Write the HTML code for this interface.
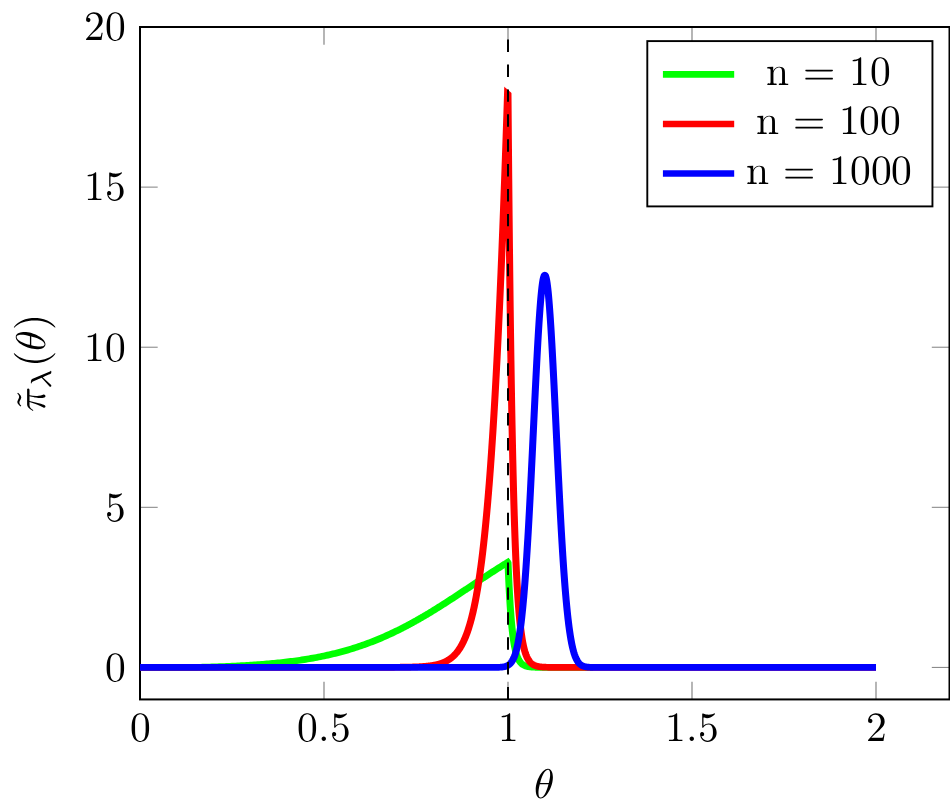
<!DOCTYPE html>
<html lang="en"><head><meta charset="utf-8"><title>Plot of π̃λ(θ) for n = 10, 100, 1000</title>
<style>
html,body{margin:0;padding:0;background:#fff;}
body{width:950px;height:812px;overflow:hidden;font-family:"Liberation Serif",serif;}
svg{display:block;}
</style></head><body>
<svg width="950" height="812" viewBox="0 0 950 812" role="img">
<title>π̃λ(θ) versus θ; legend: n = 10, n = 100, n = 1000</title>
<desc>Line chart. x axis: θ, ticks 0, 0.5, 1, 1.5, 2. y axis: π̃λ(θ), ticks 0, 5, 10, 15, 20. Legend: n = 10 (green), n = 100 (red), n = 1000 (blue). Dashed vertical line at θ = 1.</desc>
<defs><path id="r_zero" d="M460 320C460 400 455 480 420 554C374 650 292 666 250 666C190 666 117 640 76 547C44 478 39 400 39 320C39 245 43 155 84 79C127 -2 200 -22 249 -22C303 -22 379 -1 423 94C455 163 460 241 460 320ZM377 332C377 257 377 189 366 125C351 30 294 0 249 0C210 0 151 25 133 121C122 181 122 273 122 332C122 396 122 462 130 516C149 635 224 644 249 644C282 644 348 626 367 527C377 471 377 395 377 332Z"/><path id="r_period" d="M192 53C192 82 168 106 139 106C110 106 86 82 86 53C86 24 110 0 139 0C168 0 192 24 192 53Z"/><path id="r_five" d="M449 201C449 320 367 420 259 420C211 420 168 404 132 369V564C152 558 185 551 217 551C340 551 410 642 410 655C410 661 407 666 400 666C400 666 397 666 392 663C372 654 323 634 256 634C216 634 170 641 123 662C115 665 111 665 111 665C101 665 101 657 101 641V345C101 327 101 319 115 319C122 319 124 322 128 328C139 344 176 398 257 398C309 398 334 352 342 334C358 297 360 258 360 208C360 173 360 113 336 71C312 32 275 6 229 6C156 6 99 59 82 118C85 117 88 116 99 116C132 116 149 141 149 165C149 189 132 214 99 214C85 214 50 207 50 161C50 75 119 -22 231 -22C347 -22 449 74 449 201Z"/><path id="r_one" d="M419 0V31H387C297 31 294 42 294 79V640C294 664 294 666 271 666C209 602 121 602 89 602V571C109 571 168 571 220 597V79C220 43 217 31 127 31H95V0C130 3 217 3 257 3C297 3 384 3 419 0Z"/><path id="r_two" d="M449 174H424C419 144 412 100 402 85C395 77 329 77 307 77H127L233 180C389 318 449 372 449 472C449 586 359 666 237 666C124 666 50 574 50 485C50 429 100 429 103 429C120 429 155 441 155 482C155 508 137 534 102 534C94 534 92 534 89 533C112 598 166 635 224 635C315 635 358 554 358 472C358 392 308 313 253 251L61 37C50 26 50 24 50 0H421Z"/><path id="r_n" d="M535 0V31C483 31 458 31 457 61V252C457 338 457 369 426 405C412 422 379 442 321 442C248 442 201 399 173 337V442L32 431V400C102 400 110 393 110 344V76C110 31 99 31 32 31V0L145 3L257 0V31C190 31 179 31 179 76V260C179 364 250 420 314 420C377 420 388 366 388 309V76C388 31 377 31 310 31V0L423 3Z"/><path id="r_equal" d="M721 347C721 367 702 367 688 367H89C75 367 56 367 56 347C56 327 75 327 90 327H687C702 327 721 327 721 347ZM721 153C721 173 702 173 687 173H90C75 173 56 173 56 153C56 133 75 133 89 133H688C702 133 721 133 721 153Z"/><path id="m_u1D703" d="M455 500C455 566 437 705 335 705C196 705 42 423 42 194C42 100 71 -11 162 -11C303 -11 455 276 455 500ZM389 562C389 513 381 462 357 363H148C165 427 185 507 225 578C252 627 289 683 334 683C383 683 389 619 389 562ZM348 331C337 285 316 200 278 128C243 60 205 11 162 11C129 11 108 40 108 133C108 175 114 233 140 331Z"/><path id="m_u1D70B" d="M567 407C567 431 546 431 527 431H192C170 431 132 431 88 384C53 345 27 299 27 294C27 294 27 284 39 284C47 284 49 288 55 296C104 373 162 373 182 373H239C207 252 153 131 111 40C103 25 103 23 103 16C103 -3 119 -11 132 -11C162 -11 170 17 182 54C196 100 196 102 209 152L265 373H378C345 225 336 182 336 115C336 100 336 73 344 39C354 -5 365 -11 380 -11C400 -11 421 7 421 27C421 33 421 35 415 49C386 121 386 186 386 214C386 267 393 321 404 373H518C531 373 567 373 567 407Z"/><path id="m_lambda_st" d="M624 2C624 7 621 10 619 12C607 23 597 46 593 55L349 631C342 649 322 694 216 694C204 694 190 694 190 680C190 668 200 667 205 666C226 663 245 660 270 603L389 323L94 57C82 47 74 39 74 22C74 -2 94 -12 108 -12C127 -12 139 1 142 4L404 286C454 172 511 27 522 14C541 -10 559 -10 575 -10H595C614 -10 624 -10 624 2Z"/><path id="c_tilde" d="M170 1206 229 1276Q309 1368 389 1368Q428 1368 474.5 1345Q521 1322 567.5 1299Q614 1276 653 1276Q735 1276 811 1368L852 1333L793 1264Q712 1171 633 1171Q594 1171 547.5 1194.5Q501 1218 454.5 1241Q408 1264 369 1264Q287 1264 211 1171Z"/><path id="r_parenleft" d="M331 -240C331 -237 331 -235 314 -218C189 -92 157 97 157 250C157 424 195 598 318 723C331 735 331 737 331 740C331 747 327 750 321 750C311 750 221 682 162 555C111 445 99 334 99 250C99 172 110 51 165 -62C225 -185 311 -250 321 -250C327 -250 331 -247 331 -240Z"/><path id="r_parenright" d="M289 250C289 328 278 449 223 562C163 685 77 750 67 750C61 750 57 746 57 740C57 737 57 735 76 717C174 618 231 459 231 250C231 79 194 -97 70 -223C57 -235 57 -237 57 -240C57 -246 61 -250 67 -250C77 -250 167 -182 226 -55C277 55 289 166 289 250Z"/></defs>
<rect width="950" height="812" fill="#fff"/>
<g stroke="#808080" stroke-width="1.15" fill="none"><path d="M140.00,699.43V681.73M140.00,27.00V44.70"/><path d="M324.00,699.43V681.73M324.00,27.00V44.70"/><path d="M508.00,699.43V681.73M508.00,27.00V44.70"/><path d="M692.00,699.43V681.73M692.00,27.00V44.70"/><path d="M876.00,699.43V681.73M876.00,27.00V44.70"/><path stroke-width="1" d="M140.00,667.41H157.70M949.50,667.41H931.80"/><path stroke-width="1" d="M140.00,507.31H157.70M949.50,507.31H931.80"/><path stroke-width="1" d="M140.00,347.21H157.70M949.50,347.21H931.80"/><path stroke-width="1" d="M140.00,187.11H157.70M949.50,187.11H931.80"/><path stroke-width="1" d="M140.00,27.01H157.70M949.50,27.01H931.80"/></g>
<rect x="140.0" y="27.0" width="809.50" height="672.43" fill="none" stroke="#000" stroke-width="2.0"/>
<clipPath id="cg"><path d="M-10,-133.04L960,1159.00V820H-10Z"/></clipPath>
<clipPath id="cr"><path d="M-10,-334.68L960,460.43V820H-10Z"/></clipPath>
<g fill="none" stroke-width="6.7" stroke-linejoin="miter" stroke-miterlimit="200" stroke-linecap="butt">
<g clip-path="url(#cg)"><path transform="scale(1.05,1)" d="M133.33,667.41 L135.09,667.41 L136.84,667.41 L138.59,667.41 L140.34,667.41 L142.10,667.41 L143.85,667.41 L145.60,667.41 L147.35,667.41 L149.10,667.41 L150.86,667.41 L152.61,667.41 L154.36,667.41 L156.11,667.41 L157.87,667.41 L159.62,667.41 L161.37,667.41 L163.12,667.41 L164.88,667.41 L166.63,667.41 L168.38,667.41 L170.13,667.41 L171.89,667.41 L173.64,667.40 L175.39,667.40 L177.14,667.39 L178.90,667.39 L180.65,667.37 L182.40,667.36 L184.15,667.34 L185.90,667.32 L187.66,667.30 L189.41,667.27 L191.16,667.24 L192.91,667.20 L194.67,667.16 L196.42,667.12 L198.17,667.07 L199.92,667.02 L201.68,666.96 L203.43,666.91 L205.18,666.85 L206.93,666.78 L208.69,666.72 L210.44,666.65 L212.19,666.57 L213.94,666.50 L215.70,666.42 L217.45,666.34 L219.20,666.26 L220.95,666.17 L222.70,666.08 L224.46,665.99 L226.21,665.90 L227.96,665.80 L229.71,665.70 L231.47,665.60 L233.22,665.49 L234.97,665.38 L236.72,665.27 L238.48,665.15 L240.23,665.03 L241.98,664.91 L243.73,664.78 L245.49,664.65 L247.24,664.51 L248.99,664.37 L250.74,664.23 L252.50,664.08 L254.25,663.93 L256.00,663.77 L257.75,663.61 L259.50,663.44 L261.26,663.27 L263.01,663.09 L264.76,662.90 L266.51,662.71 L268.27,662.52 L270.02,662.31 L271.77,662.11 L273.52,661.89 L275.28,661.67 L277.03,661.44 L278.78,661.20 L280.53,660.96 L282.29,660.71 L284.04,660.45 L285.79,660.19 L287.54,659.91 L289.30,659.63 L291.05,659.34 L292.80,659.04 L294.55,658.74 L296.30,658.42 L298.06,658.09 L299.81,657.76 L301.56,657.42 L303.31,657.06 L305.07,656.70 L306.82,656.32 L308.57,655.94 L310.32,655.54 L312.08,655.14 L313.83,654.72 L315.58,654.29 L317.33,653.86 L319.09,653.41 L320.84,652.94 L322.59,652.47 L324.34,651.99 L326.10,651.49 L327.85,650.98 L329.60,650.46 L331.35,649.93 L333.10,649.38 L334.86,648.82 L336.61,648.25 L338.36,647.66 L340.11,647.06 L341.87,646.45 L343.62,645.83 L345.37,645.19 L347.12,644.54 L348.88,643.87 L350.63,643.20 L352.38,642.50 L354.13,641.80 L355.89,641.08 L357.64,640.34 L359.39,639.60 L361.14,638.83 L362.90,638.06 L364.65,637.27 L366.40,636.47 L368.15,635.65 L369.90,634.82 L371.66,633.97 L373.41,633.12 L375.16,632.24 L376.91,631.36 L378.67,630.46 L378.67,630.46 L379.02,630.28 L379.37,630.09 L379.72,629.91 L380.07,629.73 L380.42,629.55 L380.77,629.36 L381.12,629.18 L381.47,628.99 L381.82,628.81 L382.17,628.62 L382.52,628.43 L382.87,628.25 L383.22,628.06 L383.57,627.87 L383.92,627.68 L384.27,627.49 L384.62,627.30 L384.98,627.11 L385.33,626.92 L385.68,626.73 L386.03,626.54 L386.38,626.34 L386.73,626.15 L387.08,625.96 L387.43,625.76 L387.78,625.57 L388.13,625.37 L388.48,625.18 L388.83,624.98 L389.18,624.79 L389.53,624.59 L389.88,624.39 L390.23,624.19 L390.58,624.00 L390.93,623.80 L391.28,623.60 L391.63,623.40 L391.98,623.20 L392.34,623.00 L392.69,622.79 L393.04,622.59 L393.39,622.39 L393.74,622.19 L394.09,621.98 L394.44,621.78 L394.79,621.57 L395.14,621.37 L395.49,621.16 L395.84,620.96 L396.19,620.75 L396.54,620.55 L396.89,620.34 L397.24,620.13 L397.59,619.92 L397.94,619.71 L398.29,619.51 L398.64,619.30 L398.99,619.09 L399.34,618.88 L399.70,618.66 L400.05,618.45 L400.40,618.24 L400.75,618.03 L401.10,617.82 L401.45,617.60 L401.80,617.39 L402.15,617.18 L402.50,616.96 L402.85,616.75 L403.20,616.53 L403.55,616.32 L403.90,616.10 L404.25,615.88 L404.60,615.67 L404.95,615.45 L404.95,615.45 L405.30,615.23 L405.65,615.01 L406.00,614.79 L406.35,614.57 L406.70,614.36 L407.06,614.14 L407.41,613.92 L407.76,613.69 L408.11,613.47 L408.46,613.25 L408.46,613.25 L408.81,613.03 L409.16,612.81 L409.51,612.59 L409.86,612.36 L410.21,612.14 L410.56,611.92 L410.91,611.69 L411.26,611.47 L411.61,611.24 L411.96,611.02 L411.96,611.02 L412.31,610.79 L412.66,610.56 L413.01,610.34 L413.36,610.11 L413.71,609.88 L413.71,609.88 L414.06,609.66 L414.42,609.43 L414.77,609.20 L415.12,608.97 L415.47,608.74 L415.47,608.74 L415.82,608.52 L416.17,608.29 L416.52,608.06 L416.87,607.83 L417.22,607.60 L417.22,607.60 L417.57,607.36 L417.92,607.13 L418.27,606.90 L418.62,606.67 L418.97,606.44 L418.97,606.44 L419.32,606.21 L419.67,605.97 L420.02,605.74 L420.37,605.51 L420.72,605.27 L420.72,605.27 L421.07,605.04 L421.42,604.81 L421.78,604.57 L422.13,604.34 L422.48,604.10 L422.48,604.10 L422.83,603.87 L423.18,603.63 L423.53,603.39 L423.88,603.16 L424.23,602.92 L424.23,602.92 L424.58,602.69 L424.93,602.45 L425.28,602.21 L425.63,601.97 L425.98,601.74 L426.33,601.50 L426.68,601.26 L427.03,601.02 L427.38,600.78 L427.73,600.55 L428.08,600.31 L428.43,600.07 L428.78,599.83 L429.14,599.59 L429.49,599.35 L429.84,599.11 L430.19,598.87 L430.54,598.63 L430.89,598.39 L431.24,598.15 L431.59,597.90 L431.94,597.66 L432.29,597.42 L432.64,597.18 L432.99,596.94 L433.34,596.70 L433.69,596.45 L434.04,596.21 L434.39,595.97 L434.74,595.73 L435.09,595.48 L435.44,595.24 L435.79,595.00 L436.14,594.76 L436.50,594.51 L436.85,594.27 L437.20,594.03 L437.55,593.78 L437.90,593.54 L438.25,593.29 L438.60,593.05 L438.95,592.81 L439.30,592.56 L439.65,592.32 L440.00,592.07 L440.35,591.83 L440.70,591.58 L441.05,591.34 L441.40,591.09 L441.75,590.85 L442.10,590.60 L442.45,590.36 L442.80,590.11 L443.15,589.87 L443.50,589.62 L443.86,589.38 L444.21,589.13 L444.56,588.89 L444.91,588.64 L445.26,588.40 L445.61,588.15 L445.96,587.91 L446.31,587.66 L446.66,587.41 L447.01,587.17 L447.36,586.92 L447.71,586.68 L448.06,586.43 L448.41,586.19 L448.76,585.94 L449.11,585.70 L449.46,585.45 L449.81,585.20 L450.16,584.96 L450.51,584.71 L450.86,584.47 L451.22,584.22 L451.57,583.98 L451.92,583.73 L452.27,583.49 L452.62,583.24 L452.97,583.00 L453.32,582.75 L453.67,582.51 L454.02,582.26 L454.37,582.02 L454.72,581.77 L455.07,581.53 L455.42,581.28 L455.77,581.04 L456.12,580.79 L456.47,580.55 L456.82,580.30 L457.17,580.06 L457.52,579.82 L457.87,579.57 L458.22,579.33 L458.58,579.08 L458.93,578.84 L459.28,578.60 L459.63,578.35 L459.98,578.11 L460.33,577.87 L460.68,577.63 L461.03,577.38 L461.38,577.14 L461.73,576.90 L462.08,576.66 L462.43,576.41 L462.78,576.17 L462.78,576.17 L463.13,575.93 L463.48,575.69 L463.83,575.45 L464.18,575.21 L464.53,574.97 L464.88,574.73 L465.23,574.48 L465.58,574.24 L465.94,574.00 L466.29,573.77 L466.29,573.77 L466.64,573.53 L466.99,573.29 L467.34,573.05 L467.69,572.81 L468.04,572.57 L468.39,572.33 L468.74,572.09 L469.09,571.86 L469.44,571.62 L469.79,571.38 L470.14,571.14 L470.49,570.91 L470.84,570.67 L471.19,570.44 L471.54,570.20 L471.54,570.20 L471.89,569.96 L472.24,569.73 L472.59,569.49 L472.94,569.26 L473.30,569.03 L473.65,568.79 L474.00,568.56 L474.35,568.32 L474.70,568.09 L475.05,567.86 L475.05,567.86 L475.40,567.63 L475.75,567.39 L476.10,567.16 L476.45,566.93 L476.80,566.70 L477.15,566.47 L477.50,566.24 L477.85,566.01 L478.20,565.78 L478.55,565.55 L478.55,565.55 L478.90,565.32 L479.25,565.10 L479.60,564.87 L479.95,564.64 L480.30,564.41 L480.66,564.19 L481.01,563.96 L481.36,563.74 L481.71,563.51 L482.06,563.29 L482.06,563.29 L482.41,563.06 L482.76,562.84 L483.11,562.61 L483.46,562.39 L483.81,562.17 L484.16,571.23 L484.51,579.50 L484.86,587.07 L485.21,593.99 L485.56,600.30 L485.56,600.30 L485.91,606.08 L486.26,611.36 L486.61,616.18 L486.96,620.59 L487.31,624.62 L487.66,628.30 L488.02,631.67 L488.37,634.75 L488.72,637.56 L489.07,640.13 L489.42,642.48 L489.77,644.62 L490.12,646.58 L490.47,648.38 L490.82,650.01 L491.17,651.51 L491.52,652.88 L491.87,654.13 L492.22,655.27 L492.57,656.32 L492.92,657.27 L493.27,658.14 L493.62,658.94 L493.97,659.67 L494.32,660.34 L494.67,660.95 L495.02,661.50 L495.38,662.01 L495.73,662.48 L496.08,662.90 L496.08,662.90 L496.43,663.29 L496.78,663.64 L497.13,663.97 L497.48,664.26 L497.83,664.53 L498.18,664.78 L498.53,665.01 L498.88,665.21 L499.23,665.40 L499.58,665.58 L499.93,665.73 L500.28,665.88 L500.63,666.01 L500.98,666.13 L501.33,666.24 L501.68,666.34 L502.03,666.43 L502.38,666.52 L502.74,666.59 L503.09,666.66 L503.09,666.66 L503.44,666.73 L503.79,666.79 L504.14,666.84 L504.49,666.89 L504.84,666.93 L505.19,666.98 L505.54,667.01 L505.89,667.05 L506.24,667.08 L506.59,667.11 L506.94,667.13 L507.29,667.16 L507.64,667.18 L507.99,667.20 L508.34,667.22 L508.69,667.23 L509.04,667.25 L509.39,667.26 L509.74,667.28 L510.10,667.29 L510.10,667.29 L510.45,667.30 L510.80,667.31 L511.15,667.32 L511.50,667.32 L511.85,667.33 L512.20,667.34 L512.55,667.34 L512.90,667.35 L513.25,667.36 L513.60,667.36 L513.95,667.36 L514.30,667.37 L514.65,667.37 L515.00,667.38 L515.35,667.38 L515.70,667.38 L516.05,667.38 L516.40,667.39 L516.75,667.39 L517.10,667.39 L517.46,667.39 L517.81,667.39 L518.16,667.39 L518.51,667.40 L518.86,667.40 L519.21,667.40 L519.56,667.40 L519.91,667.40 L520.26,667.40 L520.61,667.40 L520.96,667.40 L521.31,667.40 L521.66,667.40 L522.01,667.40 L522.36,667.40 L522.71,667.41 L523.06,667.41 L523.41,667.41 L523.76,667.41 L524.11,667.41 L524.46,667.41 L524.82,667.41 L525.17,667.41 L525.52,667.41 L525.87,667.41 L526.22,667.41 L526.57,667.41 L526.92,667.41 L527.27,667.41 L527.62,667.41 L527.97,667.41 L528.32,667.41 L528.67,667.41 L529.02,667.41 L529.37,667.41 L529.72,667.41 L530.07,667.41 L530.42,667.41 L530.77,667.41 L531.12,667.41 L531.47,667.41 L531.82,667.41 L532.18,667.41 L532.53,667.41 L532.88,667.41 L533.23,667.41 L533.58,667.41 L533.93,667.41 L534.28,667.41 L534.63,667.41 L534.98,667.41 L535.33,667.41 L535.68,667.41 L536.03,667.41 L536.38,667.41 L536.73,667.41 L537.08,667.41 L537.43,667.41 L537.78,667.41 L538.13,667.41 L538.48,667.41 L538.83,667.41 L539.18,667.41 L539.54,667.41 L539.89,667.41 L539.89,667.41 L540.24,667.41 L540.59,667.41 L540.94,667.41 L541.29,667.41 L541.64,667.41 L541.99,667.41 L542.34,667.41 L542.69,667.41 L543.04,667.41 L543.39,667.41 L543.74,667.41 L544.09,667.41 L544.44,667.41 L544.79,667.41 L545.14,667.41 L545.49,667.41 L545.84,667.41 L546.19,667.41 L546.54,667.41 L546.90,667.41 L546.90,667.41 L547.25,667.41 L547.60,667.41 L547.95,667.41 L548.30,667.41 L548.65,667.41 L549.00,667.41 L549.35,667.41 L549.70,667.41 L550.05,667.41 L550.40,667.41 L550.75,667.41 L551.10,667.41 L551.45,667.41 L551.80,667.41 L552.15,667.41 L552.50,667.41 L552.85,667.41 L553.20,667.41 L553.55,667.41 L553.90,667.41 L553.90,667.41 L554.26,667.41 L554.61,667.41 L554.96,667.41 L555.31,667.41 L555.66,667.41 L556.01,667.41 L556.36,667.41 L556.71,667.41 L557.06,667.41 L557.41,667.41 L557.76,667.41 L558.11,667.41 L558.46,667.41 L558.81,667.41 L559.16,667.41 L559.51,667.41 L559.86,667.41 L560.21,667.41 L560.56,667.41 L560.91,667.41 L560.91,667.41 L561.26,667.41 L561.62,667.41 L561.97,667.41 L562.32,667.41 L562.67,667.41 L563.02,667.41 L563.37,667.41 L563.72,667.41 L564.07,667.41 L564.42,667.41 L564.77,667.41 L565.12,667.41 L565.47,667.41 L565.82,667.41 L566.17,667.41 L566.52,667.41 L566.87,667.41 L567.22,667.41 L567.57,667.41 L567.92,667.41 L567.92,667.41 L568.27,667.41 L568.62,667.41 L568.98,667.41 L569.33,667.41 L569.68,667.41 L570.03,667.41 L570.38,667.41 L570.73,667.41 L571.08,667.41 L571.43,667.41 L571.78,667.41 L572.13,667.41 L572.48,667.41 L572.83,667.41 L573.18,667.41 L573.53,667.41 L573.88,667.41 L574.23,667.41 L574.58,667.41 L574.93,667.41 L574.93,667.41 L575.28,667.41 L575.63,667.41 L575.98,667.41 L576.34,667.41 L576.69,667.41 L577.04,667.41 L577.39,667.41 L577.74,667.41 L578.09,667.41 L578.44,667.41 L578.79,667.41 L579.14,667.41 L579.49,667.41 L579.84,667.41 L580.19,667.41 L580.54,667.41 L580.89,667.41 L581.24,667.41 L581.59,667.41 L581.94,667.41 L581.94,667.41 L582.29,667.41 L582.64,667.41 L582.99,667.41 L583.34,667.41 L583.70,667.41 L583.70,667.41 L584.05,667.41 L584.40,667.41 L584.75,667.41 L585.10,667.41 L585.45,667.41 L585.80,667.41 L586.15,667.41 L586.50,667.41 L586.85,667.41 L587.20,667.41 L587.20,667.41 L587.55,667.41 L587.90,667.41 L588.25,667.41 L588.60,667.41 L588.95,667.41 L590.70,667.41 L592.46,667.41 L594.21,667.41 L595.96,667.41 L597.71,667.41 L599.47,667.41 L601.22,667.41 L602.97,667.41 L604.72,667.41 L606.48,667.41 L608.23,667.41 L609.98,667.41 L611.73,667.41 L613.49,667.41 L615.24,667.41 L616.99,667.41 L618.74,667.41 L620.50,667.41 L622.25,667.41 L624.00,667.41 L625.75,667.41 L627.50,667.41 L629.26,667.41 L631.01,667.41 L632.76,667.41 L634.51,667.41 L636.27,667.41 L638.02,667.41 L639.77,667.41 L641.52,667.41 L643.28,667.41 L645.03,667.41 L646.78,667.41 L648.53,667.41 L650.29,667.41 L652.04,667.41 L653.79,667.41 L655.54,667.41 L657.30,667.41 L659.05,667.41 L660.80,667.41 L662.55,667.41 L664.30,667.41 L666.06,667.41 L667.81,667.41 L669.56,667.41 L671.31,667.41 L673.07,667.41 L674.82,667.41 L676.57,667.41 L678.32,667.41 L680.08,667.41 L681.83,667.41 L683.58,667.41 L685.33,667.41 L687.09,667.41 L688.84,667.41 L690.59,667.41 L692.34,667.41 L694.10,667.41 L695.85,667.41 L697.60,667.41 L699.35,667.41 L701.10,667.41 L702.86,667.41 L704.61,667.41 L706.36,667.41 L708.11,667.41 L709.87,667.41 L711.62,667.41 L713.37,667.41 L715.12,667.41 L716.88,667.41 L718.63,667.41 L720.38,667.41 L722.13,667.41 L723.89,667.41 L725.64,667.41 L727.39,667.41 L729.14,667.41 L730.90,667.41 L732.65,667.41 L734.40,667.41 L736.15,667.41 L737.90,667.41 L739.66,667.41 L741.41,667.41 L743.16,667.41 L744.91,667.41 L746.67,667.41 L748.42,667.41 L750.17,667.41 L751.92,667.41 L753.68,667.41 L755.43,667.41 L757.18,667.41 L758.93,667.41 L760.69,667.41 L762.44,667.41 L764.19,667.41 L765.94,667.41 L767.70,667.41 L769.45,667.41 L771.20,667.41 L772.95,667.41 L774.70,667.41 L776.46,667.41 L778.21,667.41 L779.96,667.41 L781.71,667.41 L783.47,667.41 L785.22,667.41 L786.97,667.41 L788.72,667.41 L790.48,667.41 L792.23,667.41 L793.98,667.41 L795.73,667.41 L797.49,667.41 L799.24,667.41 L800.99,667.41 L802.74,667.41 L804.50,667.41 L806.25,667.41 L808.00,667.41 L809.75,667.41 L811.50,667.41 L813.26,667.41 L815.01,667.41 L816.76,667.41 L818.51,667.41 L820.27,667.41 L822.02,667.41 L823.77,667.41 L825.52,667.41 L827.28,667.41 L829.03,667.41 L830.78,667.41 L832.53,667.41 L834.29,667.41" stroke="#00ff00"/></g>
<g clip-path="url(#cr)"><path transform="scale(1.05,1)" d="M133.33,667.38 L135.09,667.38 L136.84,667.38 L138.59,667.38 L140.34,667.38 L142.10,667.38 L143.85,667.38 L145.60,667.38 L147.35,667.38 L149.10,667.38 L150.86,667.38 L152.61,667.38 L154.36,667.38 L156.11,667.38 L157.87,667.38 L159.62,667.38 L161.37,667.38 L163.12,667.38 L164.88,667.38 L166.63,667.38 L168.38,667.38 L170.13,667.38 L171.89,667.38 L173.64,667.38 L175.39,667.38 L177.14,667.38 L178.90,667.38 L180.65,667.38 L182.40,667.38 L184.15,667.38 L185.90,667.38 L187.66,667.38 L189.41,667.38 L191.16,667.38 L192.91,667.38 L194.67,667.38 L196.42,667.38 L198.17,667.38 L199.92,667.38 L201.68,667.38 L203.43,667.38 L205.18,667.38 L206.93,667.38 L208.69,667.38 L210.44,667.38 L212.19,667.38 L213.94,667.38 L215.70,667.38 L217.45,667.38 L219.20,667.38 L220.95,667.38 L222.70,667.38 L224.46,667.38 L226.21,667.38 L227.96,667.38 L229.71,667.38 L231.47,667.38 L233.22,667.38 L234.97,667.38 L236.72,667.38 L238.48,667.38 L240.23,667.38 L241.98,667.38 L243.73,667.38 L245.49,667.38 L247.24,667.38 L248.99,667.38 L250.74,667.38 L252.50,667.38 L254.25,667.38 L256.00,667.38 L257.75,667.38 L259.50,667.38 L261.26,667.38 L263.01,667.38 L264.76,667.38 L266.51,667.38 L268.27,667.38 L270.02,667.38 L271.77,667.38 L273.52,667.38 L275.28,667.38 L277.03,667.38 L278.78,667.38 L280.53,667.38 L282.29,667.38 L284.04,667.38 L285.79,667.38 L287.54,667.38 L289.30,667.38 L291.05,667.38 L292.80,667.38 L294.55,667.38 L296.30,667.38 L298.06,667.38 L299.81,667.38 L301.56,667.38 L303.31,667.38 L305.07,667.38 L306.82,667.38 L308.57,667.38 L310.32,667.38 L312.08,667.38 L313.83,667.38 L315.58,667.38 L317.33,667.38 L319.09,667.38 L320.84,667.38 L322.59,667.38 L324.34,667.38 L326.10,667.38 L327.85,667.38 L329.60,667.38 L331.35,667.38 L333.10,667.38 L334.86,667.38 L336.61,667.38 L338.36,667.38 L340.11,667.38 L341.87,667.38 L343.62,667.38 L345.37,667.38 L347.12,667.37 L348.88,667.37 L350.63,667.37 L352.38,667.37 L354.13,667.36 L355.89,667.36 L357.64,667.36 L359.39,667.35 L361.14,667.35 L362.90,667.35 L364.65,667.34 L366.40,667.33 L368.15,667.33 L369.90,667.32 L371.66,667.31 L373.41,667.30 L375.16,667.28 L376.91,667.27 L378.67,667.25 L378.67,667.25 L379.02,667.25 L379.37,667.24 L379.72,667.24 L380.07,667.24 L380.42,667.23 L380.77,667.23 L381.12,667.22 L381.47,667.22 L381.82,667.22 L382.17,667.21 L382.52,667.21 L382.87,667.20 L383.22,667.20 L383.57,667.19 L383.92,667.19 L384.27,667.18 L384.62,667.17 L384.98,667.17 L385.33,667.16 L385.68,667.16 L386.03,667.15 L386.38,667.14 L386.73,667.14 L387.08,667.13 L387.43,667.12 L387.78,667.11 L388.13,667.11 L388.48,667.10 L388.83,667.09 L389.18,667.08 L389.53,667.07 L389.88,667.07 L390.23,667.06 L390.58,667.05 L390.93,667.04 L391.28,667.03 L391.63,667.02 L391.98,667.01 L392.34,667.00 L392.69,666.99 L393.04,666.97 L393.39,666.96 L393.74,666.95 L394.09,666.94 L394.44,666.92 L394.79,666.91 L395.14,666.90 L395.49,666.88 L395.84,666.87 L396.19,666.85 L396.54,666.84 L396.89,666.82 L397.24,666.81 L397.59,666.79 L397.94,666.77 L398.29,666.75 L398.64,666.74 L398.99,666.72 L399.34,666.70 L399.70,666.68 L400.05,666.66 L400.40,666.63 L400.75,666.61 L401.10,666.59 L401.45,666.57 L401.80,666.54 L402.15,666.52 L402.50,666.49 L402.85,666.46 L403.20,666.44 L403.55,666.41 L403.90,666.38 L404.25,666.35 L404.60,666.32 L404.95,666.29 L404.95,666.29 L405.30,666.25 L405.65,666.22 L406.00,666.18 L406.35,666.15 L406.70,666.11 L407.06,666.07 L407.41,666.03 L407.76,665.99 L408.11,665.95 L408.46,665.91 L408.46,665.91 L408.81,665.86 L409.16,665.81 L409.51,665.77 L409.86,665.72 L410.21,665.67 L410.56,665.61 L410.91,665.56 L411.26,665.50 L411.61,665.45 L411.96,665.39 L411.96,665.39 L412.31,665.33 L412.66,665.26 L413.01,665.20 L413.36,665.13 L413.71,665.06 L413.71,665.06 L414.06,664.99 L414.42,664.92 L414.77,664.84 L415.12,664.76 L415.47,664.68 L415.47,664.68 L415.82,664.60 L416.17,664.51 L416.52,664.42 L416.87,664.33 L417.22,664.23 L417.22,664.23 L417.57,664.14 L417.92,664.04 L418.27,663.93 L418.62,663.83 L418.97,663.72 L418.97,663.72 L419.32,663.60 L419.67,663.48 L420.02,663.36 L420.37,663.24 L420.72,663.11 L420.72,663.11 L421.07,662.98 L421.42,662.84 L421.78,662.70 L422.13,662.55 L422.48,662.40 L422.48,662.40 L422.83,662.25 L423.18,662.09 L423.53,661.92 L423.88,661.75 L424.23,661.57 L424.23,661.57 L424.58,661.39 L424.93,661.21 L425.28,661.01 L425.63,660.82 L425.98,660.61 L426.33,660.40 L426.68,660.18 L427.03,659.96 L427.38,659.73 L427.73,659.49 L428.08,659.24 L428.43,658.99 L428.78,658.73 L429.14,658.46 L429.49,658.18 L429.84,657.89 L430.19,657.60 L430.54,657.29 L430.89,656.98 L431.24,656.66 L431.59,656.32 L431.94,655.98 L432.29,655.63 L432.64,655.26 L432.99,654.89 L433.34,654.50 L433.69,654.10 L434.04,653.69 L434.39,653.26 L434.74,652.83 L435.09,652.38 L435.44,651.91 L435.79,651.44 L436.14,650.95 L436.50,650.44 L436.85,649.92 L437.20,649.38 L437.55,648.83 L437.90,648.26 L438.25,647.67 L438.60,647.07 L438.95,646.45 L439.30,645.80 L439.65,645.15 L440.00,644.47 L440.35,643.77 L440.70,643.05 L441.05,642.31 L441.40,641.55 L441.75,640.76 L442.10,639.95 L442.45,639.12 L442.80,638.27 L443.15,637.39 L443.50,636.49 L443.86,635.55 L444.21,634.60 L444.56,633.61 L444.91,632.60 L445.26,631.56 L445.61,630.49 L445.96,629.38 L446.31,628.25 L446.66,627.09 L447.01,625.89 L447.36,624.66 L447.71,623.39 L448.06,622.09 L448.41,620.76 L448.76,619.38 L449.11,617.97 L449.46,616.52 L449.81,615.03 L450.16,613.50 L450.51,611.92 L450.86,610.31 L451.22,608.65 L451.57,606.95 L451.92,605.20 L452.27,603.40 L452.62,601.55 L452.97,599.66 L453.32,597.72 L453.67,595.72 L454.02,593.67 L454.37,591.57 L454.72,589.42 L455.07,587.20 L455.42,584.93 L455.77,582.61 L456.12,580.22 L456.47,577.77 L456.82,575.26 L457.17,572.68 L457.52,570.04 L457.87,567.34 L458.22,564.56 L458.58,561.72 L458.93,558.80 L459.28,555.82 L459.63,552.76 L459.98,549.62 L460.33,546.41 L460.68,543.13 L461.03,539.76 L461.38,536.31 L461.73,532.78 L462.08,529.17 L462.43,525.47 L462.78,521.68 L462.78,521.68 L463.13,517.81 L463.48,513.85 L463.83,509.79 L464.18,505.64 L464.53,501.40 L464.88,497.06 L465.23,492.62 L465.58,488.09 L465.94,483.45 L466.29,478.71 L466.29,478.71 L466.64,473.87 L466.99,468.92 L467.34,463.86 L467.69,458.70 L468.04,453.42 L468.39,448.03 L468.74,442.53 L469.09,436.91 L469.44,431.18 L469.79,425.32 L470.14,419.35 L470.49,413.26 L470.84,407.04 L471.19,400.70 L471.54,394.23 L471.54,394.23 L471.89,387.64 L472.24,380.92 L472.59,374.06 L472.94,367.08 L473.30,359.96 L473.65,352.71 L474.00,345.32 L474.35,337.80 L474.70,330.13 L475.05,322.33 L475.05,322.33 L475.40,314.39 L475.75,306.31 L476.10,298.08 L476.45,289.71 L476.80,281.20 L477.15,272.54 L477.50,263.73 L477.85,254.78 L478.20,245.68 L478.55,236.43 L478.55,236.43 L478.90,227.03 L479.25,217.49 L479.60,207.79 L479.95,197.94 L480.30,187.94 L480.66,177.79 L481.01,167.49 L481.36,157.04 L481.71,146.43 L482.06,135.67 L482.06,135.67 L482.41,124.77 L482.76,113.71 L483.11,102.50 L483.46,91.14 L483.70,83.09 L483.81,96.61 L484.16,139.44 L484.51,179.06 L484.86,215.70 L485.21,249.59 L485.56,280.94 L485.56,280.94 L485.91,309.94 L486.26,336.77 L486.61,361.58 L486.96,384.52 L487.31,405.75 L487.66,425.38 L488.02,443.55 L488.37,460.34 L488.72,475.88 L489.07,490.25 L489.42,503.55 L489.77,515.84 L490.12,527.21 L490.47,537.73 L490.82,547.46 L491.17,556.46 L491.52,564.79 L491.87,572.49 L492.22,579.61 L492.57,586.20 L492.92,592.29 L493.27,597.93 L493.62,603.14 L493.97,607.97 L494.32,612.43 L494.67,616.55 L495.02,620.37 L495.38,623.90 L495.73,627.16 L496.08,630.18 L496.08,630.18 L496.43,632.98 L496.78,635.56 L497.13,637.95 L497.48,640.16 L497.83,642.21 L498.18,644.10 L498.53,645.85 L498.88,647.46 L499.23,648.96 L499.58,650.34 L499.93,651.63 L500.28,652.81 L500.63,653.91 L500.98,654.92 L501.33,655.86 L501.68,656.72 L502.03,657.52 L502.38,658.27 L502.74,658.95 L503.09,659.59 L503.09,659.59 L503.44,660.17 L503.79,660.72 L504.14,661.22 L504.49,661.68 L504.84,662.11 L505.19,662.51 L505.54,662.88 L505.89,663.22 L506.24,663.53 L506.59,663.82 L506.94,664.09 L507.29,664.34 L507.64,664.57 L507.99,664.79 L508.34,664.98 L508.69,665.16 L509.04,665.33 L509.39,665.49 L509.74,665.63 L510.10,665.77 L510.10,665.77 L510.45,665.89 L510.80,666.00 L511.15,666.11 L511.50,666.21 L511.85,666.30 L512.20,666.38 L512.55,666.46 L512.90,666.53 L513.25,666.60 L513.60,666.66 L513.95,666.71 L514.30,666.77 L514.65,666.81 L515.00,666.86 L515.35,666.90 L515.70,666.94 L516.05,666.97 L516.40,667.01 L516.75,667.04 L517.10,667.06 L517.46,667.09 L517.81,667.11 L518.16,667.14 L518.51,667.16 L518.86,667.18 L519.21,667.19 L519.56,667.21 L519.91,667.22 L520.26,667.24 L520.61,667.25 L520.96,667.26 L521.31,667.27 L521.66,667.28 L522.01,667.29 L522.36,667.30 L522.71,667.31 L523.06,667.32 L523.41,667.33 L523.76,667.33 L524.11,667.34 L524.46,667.34 L524.82,667.35 L525.17,667.35 L525.52,667.36 L525.87,667.36 L526.22,667.36 L526.57,667.37 L526.92,667.37 L527.27,667.37 L527.62,667.38 L527.97,667.38 L528.32,667.38 L528.67,667.38 L529.02,667.39 L529.37,667.39 L529.72,667.39 L530.07,667.39 L530.42,667.39 L530.77,667.39 L531.12,667.39 L531.47,667.40 L531.82,667.40 L532.18,667.40 L532.53,667.40 L532.88,667.40 L533.23,667.40 L533.58,667.40 L533.93,667.40 L534.28,667.40 L534.63,667.40 L534.98,667.40 L535.33,667.40 L535.68,667.40 L536.03,667.40 L536.38,667.41 L536.73,667.41 L537.08,667.41 L537.43,667.41 L537.78,667.41 L538.13,667.41 L538.48,667.41 L538.83,667.41 L539.18,667.41 L539.54,667.41 L539.89,667.41 L539.89,667.41 L540.24,667.41 L540.59,667.41 L540.94,667.41 L541.29,667.41 L541.64,667.41 L541.99,667.41 L542.34,667.41 L542.69,667.41 L543.04,667.41 L543.39,667.41 L543.74,667.41 L544.09,667.41 L544.44,667.41 L544.79,667.41 L545.14,667.41 L545.49,667.41 L545.84,667.41 L546.19,667.41 L546.54,667.41 L546.90,667.41 L546.90,667.41 L547.25,667.41 L547.60,667.41 L547.95,667.41 L548.30,667.41 L548.65,667.41 L549.00,667.41 L549.35,667.41 L549.70,667.41 L550.05,667.41 L550.40,667.41 L550.75,667.41 L551.10,667.41 L551.45,667.41 L551.80,667.41 L552.15,667.41 L552.50,667.41 L552.85,667.41 L553.20,667.41 L553.55,667.41 L553.90,667.41 L553.90,667.41 L554.26,667.41 L554.61,667.41 L554.96,667.41 L555.31,667.41 L555.66,667.41 L556.01,667.41 L556.36,667.41 L556.71,667.41 L557.06,667.41 L557.41,667.41 L557.76,667.41 L558.11,667.41 L558.46,667.41 L558.81,667.41 L559.16,667.41 L559.51,667.41 L559.86,667.41 L560.21,667.41 L560.56,667.41 L560.91,667.41 L560.91,667.41 L561.26,667.41 L561.62,667.41 L561.97,667.41 L562.32,667.41 L562.67,667.41 L563.02,667.41 L563.37,667.41 L563.72,667.41 L564.07,667.41 L564.42,667.41 L564.77,667.41 L565.12,667.41 L565.47,667.41 L565.82,667.41 L566.17,667.41 L566.52,667.41 L566.87,667.41 L567.22,667.41 L567.57,667.41 L567.92,667.41 L567.92,667.41 L568.27,667.41 L568.62,667.41 L568.98,667.41 L569.33,667.41 L569.68,667.41 L570.03,667.41 L570.38,667.41 L570.73,667.41 L571.08,667.41 L571.43,667.41 L571.78,667.41 L572.13,667.41 L572.48,667.41 L572.83,667.41 L573.18,667.41 L573.53,667.41 L573.88,667.41 L574.23,667.41 L574.58,667.41 L574.93,667.41 L574.93,667.41 L575.28,667.41 L575.63,667.41 L575.98,667.41 L576.34,667.41 L576.69,667.41 L577.04,667.41 L577.39,667.41 L577.74,667.41 L578.09,667.41 L578.44,667.41 L578.79,667.41 L579.14,667.41 L579.49,667.41 L579.84,667.41 L580.19,667.41 L580.54,667.41 L580.89,667.41 L581.24,667.41 L581.59,667.41 L581.94,667.41 L581.94,667.41 L582.29,667.41 L582.64,667.41 L582.99,667.41 L583.34,667.41 L583.70,667.41 L583.70,667.41 L584.05,667.41 L584.40,667.41 L584.75,667.41 L585.10,667.41 L585.45,667.41 L585.80,667.41 L586.15,667.41 L586.50,667.41 L586.85,667.41 L587.20,667.41 L587.20,667.41 L587.55,667.41 L587.90,667.41 L588.25,667.41 L588.60,667.41 L588.95,667.41 L590.70,667.41 L592.46,667.41 L594.21,667.41 L595.96,667.41 L597.71,667.41 L599.47,667.41 L601.22,667.41 L602.97,667.41 L604.72,667.41 L606.48,667.41 L608.23,667.41 L609.98,667.41 L611.73,667.41 L613.49,667.41 L615.24,667.41 L616.99,667.41 L618.74,667.41 L620.50,667.41 L622.25,667.41 L624.00,667.41 L625.75,667.41 L627.50,667.41 L629.26,667.41 L631.01,667.41 L632.76,667.41 L634.51,667.41 L636.27,667.41 L638.02,667.41 L639.77,667.41 L641.52,667.41 L643.28,667.41 L645.03,667.41 L646.78,667.41 L648.53,667.41 L650.29,667.41 L652.04,667.41 L653.79,667.41 L655.54,667.41 L657.30,667.41 L659.05,667.41 L660.80,667.41 L662.55,667.41 L664.30,667.41 L666.06,667.41 L667.81,667.41 L669.56,667.41 L671.31,667.41 L673.07,667.41 L674.82,667.41 L676.57,667.41 L678.32,667.41 L680.08,667.41 L681.83,667.41 L683.58,667.41 L685.33,667.41 L687.09,667.41 L688.84,667.41 L690.59,667.41 L692.34,667.41 L694.10,667.41 L695.85,667.41 L697.60,667.41 L699.35,667.41 L701.10,667.41 L702.86,667.41 L704.61,667.41 L706.36,667.41 L708.11,667.41 L709.87,667.41 L711.62,667.41 L713.37,667.41 L715.12,667.41 L716.88,667.41 L718.63,667.41 L720.38,667.41 L722.13,667.41 L723.89,667.41 L725.64,667.41 L727.39,667.41 L729.14,667.41 L730.90,667.41 L732.65,667.41 L734.40,667.41 L736.15,667.41 L737.90,667.41 L739.66,667.41 L741.41,667.41 L743.16,667.41 L744.91,667.41 L746.67,667.41 L748.42,667.41 L750.17,667.41 L751.92,667.41 L753.68,667.41 L755.43,667.41 L757.18,667.41 L758.93,667.41 L760.69,667.41 L762.44,667.41 L764.19,667.41 L765.94,667.41 L767.70,667.41 L769.45,667.41 L771.20,667.41 L772.95,667.41 L774.70,667.41 L776.46,667.41 L778.21,667.41 L779.96,667.41 L781.71,667.41 L783.47,667.41 L785.22,667.41 L786.97,667.41 L788.72,667.41 L790.48,667.41 L792.23,667.41 L793.98,667.41 L795.73,667.41 L797.49,667.41 L799.24,667.41 L800.99,667.41 L802.74,667.41 L804.50,667.41 L806.25,667.41 L808.00,667.41 L809.75,667.41 L811.50,667.41 L813.26,667.41 L815.01,667.41 L816.76,667.41 L818.51,667.41 L820.27,667.41 L822.02,667.41 L823.77,667.41 L825.52,667.41 L827.28,667.41 L829.03,667.41 L830.78,667.41 L832.53,667.41 L834.29,667.41" stroke="#ff0000"/></g>
<path transform="scale(1.05,1)" d="M133.33,667.41 L135.09,667.41 L136.84,667.41 L138.59,667.41 L140.34,667.41 L142.10,667.41 L143.85,667.41 L145.60,667.41 L147.35,667.41 L149.10,667.41 L150.86,667.41 L152.61,667.41 L154.36,667.41 L156.11,667.41 L157.87,667.41 L159.62,667.41 L161.37,667.41 L163.12,667.41 L164.88,667.41 L166.63,667.41 L168.38,667.41 L170.13,667.41 L171.89,667.41 L173.64,667.41 L175.39,667.41 L177.14,667.41 L178.90,667.41 L180.65,667.41 L182.40,667.41 L184.15,667.41 L185.90,667.41 L187.66,667.41 L189.41,667.41 L191.16,667.41 L192.91,667.41 L194.67,667.41 L196.42,667.41 L198.17,667.41 L199.92,667.41 L201.68,667.41 L203.43,667.41 L205.18,667.41 L206.93,667.41 L208.69,667.41 L210.44,667.41 L212.19,667.41 L213.94,667.41 L215.70,667.41 L217.45,667.41 L219.20,667.41 L220.95,667.41 L222.70,667.41 L224.46,667.41 L226.21,667.41 L227.96,667.41 L229.71,667.41 L231.47,667.41 L233.22,667.41 L234.97,667.41 L236.72,667.41 L238.48,667.41 L240.23,667.41 L241.98,667.41 L243.73,667.41 L245.49,667.41 L247.24,667.41 L248.99,667.41 L250.74,667.41 L252.50,667.41 L254.25,667.41 L256.00,667.41 L257.75,667.41 L259.50,667.41 L261.26,667.41 L263.01,667.41 L264.76,667.41 L266.51,667.41 L268.27,667.41 L270.02,667.41 L271.77,667.41 L273.52,667.41 L275.28,667.41 L277.03,667.41 L278.78,667.41 L280.53,667.41 L282.29,667.41 L284.04,667.41 L285.79,667.41 L287.54,667.41 L289.30,667.41 L291.05,667.41 L292.80,667.41 L294.55,667.41 L296.30,667.41 L298.06,667.41 L299.81,667.41 L301.56,667.41 L303.31,667.41 L305.07,667.41 L306.82,667.41 L308.57,667.41 L310.32,667.41 L312.08,667.41 L313.83,667.41 L315.58,667.41 L317.33,667.41 L319.09,667.41 L320.84,667.41 L322.59,667.41 L324.34,667.41 L326.10,667.41 L327.85,667.41 L329.60,667.41 L331.35,667.41 L333.10,667.41 L334.86,667.41 L336.61,667.41 L338.36,667.41 L340.11,667.41 L341.87,667.41 L343.62,667.41 L345.37,667.41 L347.12,667.41 L348.88,667.41 L350.63,667.41 L352.38,667.41 L354.13,667.41 L355.89,667.41 L357.64,667.41 L359.39,667.41 L361.14,667.41 L362.90,667.41 L364.65,667.41 L366.40,667.41 L368.15,667.41 L369.90,667.41 L371.66,667.41 L373.41,667.41 L375.16,667.41 L376.91,667.41 L378.67,667.41 L378.67,667.41 L379.02,667.41 L379.37,667.41 L379.72,667.41 L380.07,667.41 L380.42,667.41 L380.77,667.41 L381.12,667.41 L381.47,667.41 L381.82,667.41 L382.17,667.41 L382.52,667.41 L382.87,667.41 L383.22,667.41 L383.57,667.41 L383.92,667.41 L384.27,667.41 L384.62,667.41 L384.98,667.41 L385.33,667.41 L385.68,667.41 L386.03,667.41 L386.38,667.41 L386.73,667.41 L387.08,667.41 L387.43,667.41 L387.78,667.41 L388.13,667.41 L388.48,667.41 L388.83,667.41 L389.18,667.41 L389.53,667.41 L389.88,667.41 L390.23,667.41 L390.58,667.41 L390.93,667.41 L391.28,667.41 L391.63,667.41 L391.98,667.41 L392.34,667.41 L392.69,667.41 L393.04,667.41 L393.39,667.41 L393.74,667.41 L394.09,667.41 L394.44,667.41 L394.79,667.41 L395.14,667.41 L395.49,667.41 L395.84,667.41 L396.19,667.41 L396.54,667.41 L396.89,667.41 L397.24,667.41 L397.59,667.41 L397.94,667.41 L398.29,667.41 L398.64,667.41 L398.99,667.41 L399.34,667.41 L399.70,667.41 L400.05,667.41 L400.40,667.41 L400.75,667.41 L401.10,667.41 L401.45,667.41 L401.80,667.41 L402.15,667.41 L402.50,667.41 L402.85,667.41 L403.20,667.41 L403.55,667.41 L403.90,667.41 L404.25,667.41 L404.60,667.41 L404.95,667.41 L404.95,667.41 L405.30,667.41 L405.65,667.41 L406.00,667.41 L406.35,667.41 L406.70,667.41 L407.06,667.41 L407.41,667.41 L407.76,667.41 L408.11,667.41 L408.46,667.41 L408.46,667.41 L408.81,667.41 L409.16,667.41 L409.51,667.41 L409.86,667.41 L410.21,667.41 L410.56,667.41 L410.91,667.41 L411.26,667.41 L411.61,667.41 L411.96,667.41 L411.96,667.41 L412.31,667.41 L412.66,667.41 L413.01,667.41 L413.36,667.41 L413.71,667.41 L413.71,667.41 L414.06,667.41 L414.42,667.41 L414.77,667.41 L415.12,667.41 L415.47,667.41 L415.47,667.41 L415.82,667.41 L416.17,667.41 L416.52,667.41 L416.87,667.41 L417.22,667.41 L417.22,667.41 L417.57,667.41 L417.92,667.41 L418.27,667.41 L418.62,667.41 L418.97,667.41 L418.97,667.41 L419.32,667.41 L419.67,667.41 L420.02,667.41 L420.37,667.41 L420.72,667.41 L420.72,667.41 L421.07,667.41 L421.42,667.41 L421.78,667.41 L422.13,667.41 L422.48,667.41 L422.48,667.41 L422.83,667.41 L423.18,667.41 L423.53,667.41 L423.88,667.41 L424.23,667.41 L424.23,667.41 L424.58,667.41 L424.93,667.41 L425.28,667.41 L425.63,667.41 L425.98,667.41 L426.33,667.41 L426.68,667.41 L427.03,667.41 L427.38,667.41 L427.73,667.41 L428.08,667.41 L428.43,667.41 L428.78,667.41 L429.14,667.41 L429.49,667.41 L429.84,667.41 L430.19,667.41 L430.54,667.41 L430.89,667.41 L431.24,667.41 L431.59,667.41 L431.94,667.41 L432.29,667.41 L432.64,667.41 L432.99,667.41 L433.34,667.41 L433.69,667.41 L434.04,667.41 L434.39,667.41 L434.74,667.41 L435.09,667.41 L435.44,667.41 L435.79,667.41 L436.14,667.41 L436.50,667.41 L436.85,667.41 L437.20,667.41 L437.55,667.41 L437.90,667.41 L438.25,667.41 L438.60,667.41 L438.95,667.41 L439.30,667.41 L439.65,667.41 L440.00,667.41 L440.35,667.41 L440.70,667.41 L441.05,667.41 L441.40,667.41 L441.75,667.41 L442.10,667.41 L442.45,667.41 L442.80,667.41 L443.15,667.41 L443.50,667.41 L443.86,667.41 L444.21,667.41 L444.56,667.41 L444.91,667.41 L445.26,667.41 L445.61,667.41 L445.96,667.41 L446.31,667.41 L446.66,667.41 L447.01,667.41 L447.36,667.41 L447.71,667.41 L448.06,667.41 L448.41,667.41 L448.76,667.41 L449.11,667.41 L449.46,667.41 L449.81,667.41 L450.16,667.41 L450.51,667.41 L450.86,667.41 L451.22,667.41 L451.57,667.41 L451.92,667.41 L452.27,667.41 L452.62,667.41 L452.97,667.41 L453.32,667.41 L453.67,667.41 L454.02,667.41 L454.37,667.41 L454.72,667.41 L455.07,667.41 L455.42,667.41 L455.77,667.41 L456.12,667.41 L456.47,667.41 L456.82,667.41 L457.17,667.41 L457.52,667.41 L457.87,667.41 L458.22,667.41 L458.58,667.41 L458.93,667.41 L459.28,667.41 L459.63,667.41 L459.98,667.41 L460.33,667.41 L460.68,667.41 L461.03,667.41 L461.38,667.41 L461.73,667.41 L462.08,667.41 L462.43,667.41 L462.78,667.41 L462.78,667.41 L463.13,667.41 L463.48,667.41 L463.83,667.41 L464.18,667.41 L464.53,667.41 L464.88,667.41 L465.23,667.41 L465.58,667.41 L465.94,667.41 L466.29,667.41 L466.29,667.41 L466.64,667.41 L466.99,667.41 L467.34,667.41 L467.69,667.40 L468.04,667.40 L468.39,667.40 L468.74,667.40 L469.09,667.40 L469.44,667.40 L469.79,667.40 L470.14,667.39 L470.49,667.39 L470.84,667.39 L471.19,667.39 L471.54,667.38 L471.54,667.38 L471.89,667.38 L472.24,667.37 L472.59,667.37 L472.94,667.36 L473.30,667.35 L473.65,667.35 L474.00,667.34 L474.35,667.33 L474.70,667.31 L475.05,667.30 L475.05,667.30 L475.40,667.29 L475.75,667.27 L476.10,667.25 L476.45,667.23 L476.80,667.20 L477.15,667.17 L477.50,667.14 L477.85,667.11 L478.20,667.07 L478.55,667.02 L478.55,667.02 L478.90,666.98 L479.25,666.92 L479.60,666.86 L479.95,666.79 L480.30,666.72 L480.66,666.63 L481.01,666.54 L481.36,666.43 L481.71,666.32 L482.06,666.19 L482.06,666.19 L482.41,666.05 L482.76,665.89 L483.11,665.72 L483.46,665.53 L483.81,665.32 L484.16,665.09 L484.51,664.84 L484.86,664.57 L485.21,664.27 L485.56,663.93 L485.56,663.93 L485.91,663.57 L486.26,663.18 L486.61,662.75 L486.96,662.28 L487.31,661.77 L487.66,661.21 L488.02,660.61 L488.37,659.96 L488.72,659.25 L489.07,658.49 L489.42,657.66 L489.77,656.77 L490.12,655.81 L490.47,654.78 L490.82,653.67 L491.17,652.48 L491.52,651.20 L491.87,649.82 L492.22,648.36 L492.57,646.79 L492.92,645.12 L493.27,643.33 L493.62,641.43 L493.97,639.41 L494.32,637.27 L494.67,634.99 L495.02,632.58 L495.38,630.03 L495.73,627.33 L496.08,624.49 L496.08,624.49 L496.43,621.49 L496.78,618.33 L497.13,615.01 L497.48,611.52 L497.83,607.87 L498.18,604.04 L498.53,600.03 L498.88,595.85 L499.23,591.49 L499.58,586.95 L499.93,582.22 L500.28,577.31 L500.63,572.22 L500.98,566.94 L501.33,561.49 L501.68,555.85 L502.03,550.04 L502.38,544.05 L502.74,537.89 L503.09,531.57 L503.09,531.57 L503.44,525.09 L503.79,518.46 L504.14,511.68 L504.49,504.76 L504.84,497.71 L505.19,490.54 L505.54,483.27 L505.89,475.89 L506.24,468.43 L506.59,460.89 L506.94,453.29 L507.29,445.65 L507.64,437.97 L507.99,430.27 L508.34,422.57 L508.69,414.89 L509.04,407.24 L509.39,399.64 L509.74,392.10 L510.10,384.65 L510.10,384.65 L510.45,377.30 L510.80,370.07 L511.15,362.98 L511.50,356.05 L511.85,349.29 L512.20,342.73 L512.55,336.38 L512.90,330.25 L513.25,324.38 L513.60,318.76 L513.95,313.43 L514.30,308.39 L514.65,303.66 L515.00,299.25 L515.35,295.18 L515.70,291.45 L516.05,288.09 L516.40,285.10 L516.75,282.49 L517.10,280.27 L517.46,278.44 L517.81,277.01 L518.16,275.99 L518.51,275.37 L518.86,275.16 L519.21,275.37 L519.56,275.99 L519.91,277.01 L520.26,278.44 L520.61,280.27 L520.96,282.49 L521.31,285.10 L521.66,288.09 L522.01,291.45 L522.36,295.18 L522.71,299.25 L523.06,303.66 L523.41,308.39 L523.76,313.43 L524.11,318.76 L524.46,324.38 L524.82,330.25 L525.17,336.38 L525.52,342.73 L525.87,349.29 L526.22,356.05 L526.57,362.98 L526.92,370.07 L527.27,377.30 L527.62,384.65 L527.97,392.10 L528.32,399.64 L528.67,407.24 L529.02,414.89 L529.37,422.57 L529.72,430.27 L530.07,437.97 L530.42,445.65 L530.77,453.29 L531.12,460.89 L531.47,468.43 L531.82,475.89 L532.18,483.27 L532.53,490.54 L532.88,497.71 L533.23,504.76 L533.58,511.68 L533.93,518.46 L534.28,525.09 L534.63,531.57 L534.98,537.89 L535.33,544.05 L535.68,550.04 L536.03,555.85 L536.38,561.49 L536.73,566.94 L537.08,572.22 L537.43,577.31 L537.78,582.22 L538.13,586.95 L538.48,591.49 L538.83,595.85 L539.18,600.03 L539.54,604.04 L539.89,607.87 L539.89,607.87 L540.24,611.52 L540.59,615.01 L540.94,618.33 L541.29,621.49 L541.64,624.49 L541.99,627.33 L542.34,630.03 L542.69,632.58 L543.04,634.99 L543.39,637.27 L543.74,639.41 L544.09,641.43 L544.44,643.33 L544.79,645.12 L545.14,646.79 L545.49,648.36 L545.84,649.82 L546.19,651.20 L546.54,652.48 L546.90,653.67 L546.90,653.67 L547.25,654.78 L547.60,655.81 L547.95,656.77 L548.30,657.66 L548.65,658.49 L549.00,659.25 L549.35,659.96 L549.70,660.61 L550.05,661.21 L550.40,661.77 L550.75,662.28 L551.10,662.75 L551.45,663.18 L551.80,663.57 L552.15,663.93 L552.50,664.27 L552.85,664.57 L553.20,664.84 L553.55,665.09 L553.90,665.32 L553.90,665.32 L554.26,665.53 L554.61,665.72 L554.96,665.89 L555.31,666.05 L555.66,666.19 L556.01,666.32 L556.36,666.43 L556.71,666.54 L557.06,666.63 L557.41,666.72 L557.76,666.79 L558.11,666.86 L558.46,666.92 L558.81,666.98 L559.16,667.02 L559.51,667.07 L559.86,667.11 L560.21,667.14 L560.56,667.17 L560.91,667.20 L560.91,667.20 L561.26,667.23 L561.62,667.25 L561.97,667.27 L562.32,667.29 L562.67,667.30 L563.02,667.31 L563.37,667.33 L563.72,667.34 L564.07,667.35 L564.42,667.35 L564.77,667.36 L565.12,667.37 L565.47,667.37 L565.82,667.38 L566.17,667.38 L566.52,667.39 L566.87,667.39 L567.22,667.39 L567.57,667.39 L567.92,667.40 L567.92,667.40 L568.27,667.40 L568.62,667.40 L568.98,667.40 L569.33,667.40 L569.68,667.40 L570.03,667.40 L570.38,667.41 L570.73,667.41 L571.08,667.41 L571.43,667.41 L571.78,667.41 L572.13,667.41 L572.48,667.41 L572.83,667.41 L573.18,667.41 L573.53,667.41 L573.88,667.41 L574.23,667.41 L574.58,667.41 L574.93,667.41 L574.93,667.41 L575.28,667.41 L575.63,667.41 L575.98,667.41 L576.34,667.41 L576.69,667.41 L577.04,667.41 L577.39,667.41 L577.74,667.41 L578.09,667.41 L578.44,667.41 L578.79,667.41 L579.14,667.41 L579.49,667.41 L579.84,667.41 L580.19,667.41 L580.54,667.41 L580.89,667.41 L581.24,667.41 L581.59,667.41 L581.94,667.41 L581.94,667.41 L582.29,667.41 L582.64,667.41 L582.99,667.41 L583.34,667.41 L583.70,667.41 L583.70,667.41 L584.05,667.41 L584.40,667.41 L584.75,667.41 L585.10,667.41 L585.45,667.41 L585.80,667.41 L586.15,667.41 L586.50,667.41 L586.85,667.41 L587.20,667.41 L587.20,667.41 L587.55,667.41 L587.90,667.41 L588.25,667.41 L588.60,667.41 L588.95,667.41 L590.70,667.41 L592.46,667.41 L594.21,667.41 L595.96,667.41 L597.71,667.41 L599.47,667.41 L601.22,667.41 L602.97,667.41 L604.72,667.41 L606.48,667.41 L608.23,667.41 L609.98,667.41 L611.73,667.41 L613.49,667.41 L615.24,667.41 L616.99,667.41 L618.74,667.41 L620.50,667.41 L622.25,667.41 L624.00,667.41 L625.75,667.41 L627.50,667.41 L629.26,667.41 L631.01,667.41 L632.76,667.41 L634.51,667.41 L636.27,667.41 L638.02,667.41 L639.77,667.41 L641.52,667.41 L643.28,667.41 L645.03,667.41 L646.78,667.41 L648.53,667.41 L650.29,667.41 L652.04,667.41 L653.79,667.41 L655.54,667.41 L657.30,667.41 L659.05,667.41 L660.80,667.41 L662.55,667.41 L664.30,667.41 L666.06,667.41 L667.81,667.41 L669.56,667.41 L671.31,667.41 L673.07,667.41 L674.82,667.41 L676.57,667.41 L678.32,667.41 L680.08,667.41 L681.83,667.41 L683.58,667.41 L685.33,667.41 L687.09,667.41 L688.84,667.41 L690.59,667.41 L692.34,667.41 L694.10,667.41 L695.85,667.41 L697.60,667.41 L699.35,667.41 L701.10,667.41 L702.86,667.41 L704.61,667.41 L706.36,667.41 L708.11,667.41 L709.87,667.41 L711.62,667.41 L713.37,667.41 L715.12,667.41 L716.88,667.41 L718.63,667.41 L720.38,667.41 L722.13,667.41 L723.89,667.41 L725.64,667.41 L727.39,667.41 L729.14,667.41 L730.90,667.41 L732.65,667.41 L734.40,667.41 L736.15,667.41 L737.90,667.41 L739.66,667.41 L741.41,667.41 L743.16,667.41 L744.91,667.41 L746.67,667.41 L748.42,667.41 L750.17,667.41 L751.92,667.41 L753.68,667.41 L755.43,667.41 L757.18,667.41 L758.93,667.41 L760.69,667.41 L762.44,667.41 L764.19,667.41 L765.94,667.41 L767.70,667.41 L769.45,667.41 L771.20,667.41 L772.95,667.41 L774.70,667.41 L776.46,667.41 L778.21,667.41 L779.96,667.41 L781.71,667.41 L783.47,667.41 L785.22,667.41 L786.97,667.41 L788.72,667.41 L790.48,667.41 L792.23,667.41 L793.98,667.41 L795.73,667.41 L797.49,667.41 L799.24,667.41 L800.99,667.41 L802.74,667.41 L804.50,667.41 L806.25,667.41 L808.00,667.41 L809.75,667.41 L811.50,667.41 L813.26,667.41 L815.01,667.41 L816.76,667.41 L818.51,667.41 L820.27,667.41 L822.02,667.41 L823.77,667.41 L825.52,667.41 L827.28,667.41 L829.03,667.41 L830.78,667.41 L832.53,667.41 L834.29,667.41" stroke="#0000ff" stroke-linejoin="round"/>
</g>
<path d="M508.00,699.43V27.0" stroke="#000" stroke-width="2.0" stroke-dasharray="12.45 12.45" fill="none"/>
<rect x="647.30" y="41.10" width="285.15" height="165.30" fill="#fff" stroke="#000" stroke-width="1.90"/><path d="M662.92,74.46H734.19" stroke="#00ff00" stroke-width="6.70" fill="none"/><g aria-label="n = 10"><use href="#r_n" transform="translate(766.00,85.00) scale(0.04151,-0.04151)"/><use href="#r_equal" transform="translate(803.00,85.00) scale(0.04151,-0.04151)"/><use href="#r_one" transform="translate(849.00,85.00) scale(0.04151,-0.04151)"/><use href="#r_zero" transform="translate(870.00,85.00) scale(0.04151,-0.04151)"/></g><path d="M662.92,123.98H734.19" stroke="#ff0000" stroke-width="6.70" fill="none"/><g aria-label="n = 100"><use href="#r_n" transform="translate(756.00,134.00) scale(0.04151,-0.04151)"/><use href="#r_equal" transform="translate(793.00,134.00) scale(0.04151,-0.04151)"/><use href="#r_one" transform="translate(839.00,134.00) scale(0.04151,-0.04151)"/><use href="#r_zero" transform="translate(859.00,134.00) scale(0.04151,-0.04151)"/><use href="#r_zero" transform="translate(880.00,134.00) scale(0.04151,-0.04151)"/></g><path d="M662.92,173.50H734.19" stroke="#0000ff" stroke-width="6.70" fill="none"/><g aria-label="n = 1000"><use href="#r_n" transform="translate(746.00,184.00) scale(0.04151,-0.04151)"/><use href="#r_equal" transform="translate(783.00,184.00) scale(0.04151,-0.04151)"/><use href="#r_one" transform="translate(829.00,184.00) scale(0.04151,-0.04151)"/><use href="#r_zero" transform="translate(850.00,184.00) scale(0.04151,-0.04151)"/><use href="#r_zero" transform="translate(871.00,184.00) scale(0.04151,-0.04151)"/><use href="#r_zero" transform="translate(891.00,184.00) scale(0.04151,-0.04151)"/></g>
<g aria-label="0"><use href="#r_zero" transform="translate(130.00,741.00) scale(0.04151,-0.04151)"/></g><g aria-label="0.5"><use href="#r_zero" transform="translate(297.00,741.00) scale(0.04151,-0.04151)"/><use href="#r_period" transform="translate(318.00,741.00) scale(0.04151,-0.04151)"/><use href="#r_five" transform="translate(330.00,741.00) scale(0.04151,-0.04151)"/></g><g aria-label="1"><use href="#r_one" transform="translate(498.00,741.00) scale(0.04151,-0.04151)"/></g><g aria-label="1.5"><use href="#r_one" transform="translate(665.00,741.00) scale(0.04151,-0.04151)"/><use href="#r_period" transform="translate(686.00,741.00) scale(0.04151,-0.04151)"/><use href="#r_five" transform="translate(698.00,741.00) scale(0.04151,-0.04151)"/></g><g aria-label="2"><use href="#r_two" transform="translate(866.00,741.00) scale(0.04151,-0.04151)"/></g><g aria-label="0"><use href="#r_zero" transform="translate(105.00,681.00) scale(0.04151,-0.04151)"/></g><g aria-label="5"><use href="#r_five" transform="translate(105.00,521.00) scale(0.04151,-0.04151)"/></g><g aria-label="10"><use href="#r_one" transform="translate(84.00,361.00) scale(0.04151,-0.04151)"/><use href="#r_zero" transform="translate(105.00,361.00) scale(0.04151,-0.04151)"/></g><g aria-label="15"><use href="#r_one" transform="translate(84.00,200.00) scale(0.04151,-0.04151)"/><use href="#r_five" transform="translate(105.00,200.00) scale(0.04151,-0.04151)"/></g><g aria-label="20"><use href="#r_two" transform="translate(84.00,40.00) scale(0.04151,-0.04151)"/><use href="#r_zero" transform="translate(105.00,40.00) scale(0.04151,-0.04151)"/></g>
<g aria-label="θ"><use href="#m_u1D703" transform="translate(534.00,798.00) scale(0.04151,-0.04151)"/></g>
<g aria-label="π̃λ(θ)"><use href="#m_u1D70B" transform="translate(45,412) rotate(-90) scale(0.04151,-0.04151)"/><use href="#c_tilde" transform="translate(45,410) rotate(-90) scale(0.02027,-0.02027)"/><use href="#m_lambda_st" transform="translate(51,389) rotate(-90) scale(0.02906,-0.02906)"/><use href="#r_parenleft" transform="translate(45,367) rotate(-90) scale(0.04151,-0.04151)"/><use href="#m_u1D703" transform="translate(45,351) rotate(-90) scale(0.04151,-0.04151)"/><use href="#r_parenright" transform="translate(45,330) rotate(-90) scale(0.04151,-0.04151)"/></g>
</svg>
</body></html>
